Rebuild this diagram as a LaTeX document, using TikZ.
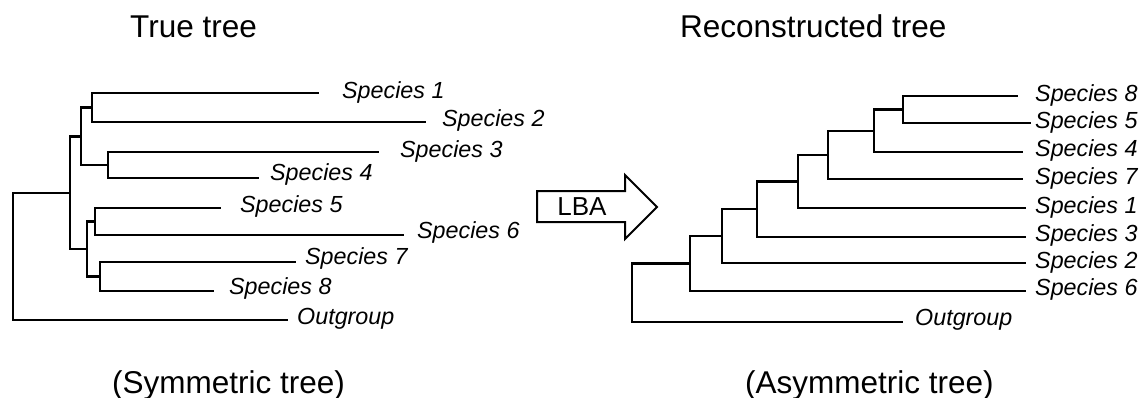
\documentclass[tikz,border=0pt]{standalone}
\usepackage{fontspec}
\setmainfont{Liberation Sans}
\begin{document}
\begin{tikzpicture}[x=1pt,y=-1pt,
  branch/.style={line width=2.6pt, line join=miter, line cap=rect},
  sp/.style={anchor=west, inner sep=0pt, font=\fontsize{23.3}{27}\selectfont\itshape},
  title/.style={anchor=base west, inner sep=0pt, font=\fontsize{31.5}{36}\selectfont},
  lbaarrow/.style={line width=2pt, line join=miter}]
\useasboundingbox (0,0) rectangle (1139,398);
% titles
\node[title] (tt) at (130,38) {True tree};
\node[title] (rt) at (680,38) {Reconstructed tree};
\node[title] (st) at (112,393) {(Symmetric tree)};
\node[title] (at) at (745,393) {(Asymmetric tree)};
% ---------- left tree ----------
\coordinate (e1) at (318,93);
\coordinate (e2) at (425,122);
\coordinate (e3) at (378,152);
\coordinate (e4) at (258,178);
\coordinate (e5) at (220,208);
\coordinate (e6) at (403,235);
\coordinate (e7) at (295,262);
\coordinate (e8) at (213,291);
\coordinate (eo) at (287,320);
\coordinate (n12) at (92,107.5);
\coordinate (n34) at (108,165);
\coordinate (nA) at (81,136.5);
\coordinate (n56) at (95,221.5);
\coordinate (n78) at (100,276.5);
\coordinate (nB) at (87,249);
\coordinate (nI) at (70,193);
\coordinate (nR) at (13,256);
\draw[branch] (e1) -| (n12) |- (e2);
\draw[branch] (e3) -| (n34) |- (e4);
\draw[branch] (n12) -| (nA) |- (n34);
\draw[branch] (e5) -| (n56) |- (e6);
\draw[branch] (e7) -| (n78) |- (e8);
\draw[branch] (n56) -| (nB) |- (n78);
\draw[branch] (nA) -| (nI) |- (nB);
\draw[branch] (nI) -| (nR) |- (eo);
\node[sp] (l1) at (342,92) {Species 1};
\node[sp] (l2) at (442,120) {Species 2};
\node[sp] (l3) at (400,151) {Species 3};
\node[sp] (l4) at (270,174) {Species 4};
\node[sp] (l5) at (240,206) {Species 5};
\node[sp] (l6) at (417,232) {Species 6};
\node[sp] (l7) at (305,258) {Species 7};
\node[sp] (l8) at (229,288) {Species 8};
\node[sp] (lo) at (297,319) {Outgroup};
% ---------- arrow ----------
\coordinate (a1) at (537,191);
\coordinate (a2) at (625,191);
\coordinate (a3) at (625,175);
\coordinate (a4) at (657,207);
\coordinate (a5) at (625,239);
\coordinate (a6) at (625,222);
\coordinate (a7) at (537,222);
\draw[lbaarrow] (a1) -- (a2) -- (a3) -- (a4) -- (a5) -- (a6) -- (a7) -- cycle;
\node[inner sep=0pt, font=\fontsize{26}{30}\selectfont] (lba) at (582,207) {LBA};
% ---------- right tree ----------
\coordinate (f8) at (1017,96);
\coordinate (f5) at (1030,123);
\coordinate (f4) at (1022,152);
\coordinate (f7) at (1022,179);
\coordinate (f1) at (1025,208);
\coordinate (f3) at (1025,237);
\coordinate (f2) at (1025,263);
\coordinate (f6) at (1025,291);
\coordinate (fo) at (902,322);
\coordinate (m1) at (903,109.5);
\coordinate (m2) at (874,131);
\coordinate (m3) at (828,155);
\coordinate (m4) at (798,181.5);
\coordinate (m5) at (757,209);
\coordinate (m6) at (722,236);
\coordinate (m7) at (690,263.5);
\coordinate (mR) at (632,293);
\draw[branch] (f8) -| (m1) |- (f5);
\draw[branch] (m1) -| (m2) |- (f4);
\draw[branch] (m2) -| (m3) |- (f7);
\draw[branch] (m3) -| (m4) |- (f1);
\draw[branch] (m4) -| (m5) |- (f3);
\draw[branch] (m5) -| (m6) |- (f2);
\draw[branch] (m6) -| (m7) |- (f6);
\draw[branch] (m7) -| (mR) |- (fo);
\node[sp] (r8) at (1035,95) {Species 8};
\node[sp] (r5) at (1035,122) {Species 5};
\node[sp] (r4) at (1035,150) {Species 4};
\node[sp] (r7) at (1035,178) {Species 7};
\node[sp] (r1) at (1035,207) {Species 1};
\node[sp] (r3) at (1035,235) {Species 3};
\node[sp] (r2) at (1035,262) {Species 2};
\node[sp] (r6) at (1035,289) {Species 6};
\node[sp] (ro) at (915,320) {Outgroup};
\end{tikzpicture}
\end{document}
